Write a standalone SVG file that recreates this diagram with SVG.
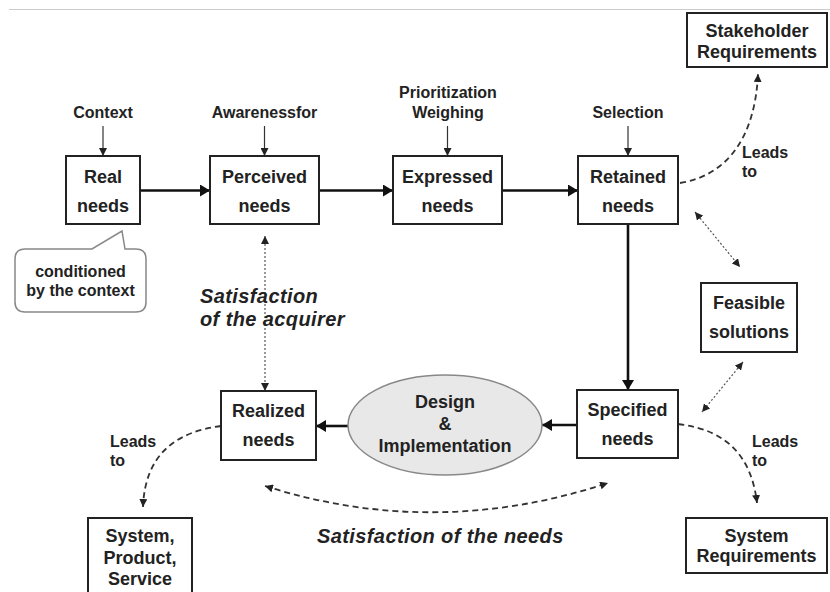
<svg xmlns="http://www.w3.org/2000/svg" width="830" height="592" viewBox="0 0 830 592">
<style>
.box{fill:#fff;stroke:#222;stroke-width:2}
.t{font-family:"Liberation Sans",Arial,sans-serif;font-weight:bold;fill:#222;text-anchor:middle}
.bl{font-size:18px}
.sl{font-size:16px}
.it{font-size:20px;font-style:italic;text-anchor:start;letter-spacing:0.4px}
.solid{stroke:#111;stroke-width:2.6;fill:none}
.thin{stroke:#333;stroke-width:1.2;fill:none}
.dash{stroke:#333;stroke-width:1.8;fill:none;stroke-dasharray:6,4}
.dot{stroke:#555;stroke-width:1.2;fill:none;stroke-dasharray:2,2}
</style>
<defs>
<marker id="big" markerUnits="userSpaceOnUse" markerWidth="10" markerHeight="12" refX="10" refY="6" orient="auto"><path d="M0,0 L10,6 L0,12 z" fill="#111"/></marker>
<marker id="sm" markerUnits="userSpaceOnUse" markerWidth="8" markerHeight="8" refX="8" refY="4" orient="auto"><path d="M0,0 L8,4 L0,8 z" fill="#222"/></marker>
<marker id="smS" markerUnits="userSpaceOnUse" markerWidth="8" markerHeight="8" refX="0" refY="4" orient="auto"><path d="M8,0 L0,4 L8,8 z" fill="#222"/></marker>
</defs>
<rect width="830" height="592" fill="#fff"/>
<line x1="9" y1="9.5" x2="830" y2="9.5" stroke="#ccc" stroke-width="1"/>

<g id="connectors">
<line class="thin" x1="103" y1="126" x2="103" y2="156" marker-end="url(#sm)"/>
<line class="thin" x1="264.5" y1="126" x2="264.5" y2="156" marker-end="url(#sm)"/>
<line class="thin" x1="447.5" y1="126" x2="447.5" y2="156" marker-end="url(#sm)"/>
<line class="thin" x1="628" y1="126" x2="628" y2="156" marker-end="url(#sm)"/>
<line class="solid" x1="140" y1="190.5" x2="210" y2="190.5" marker-end="url(#big)"/>
<line class="solid" x1="319" y1="190.5" x2="393" y2="190.5" marker-end="url(#big)"/>
<line class="solid" x1="502" y1="190.5" x2="578" y2="190.5" marker-end="url(#big)"/>
<line class="solid" x1="628" y1="224" x2="628" y2="390" marker-end="url(#big)"/>
<line class="solid" x1="577" y1="425" x2="542" y2="425" marker-end="url(#big)"/>
<line class="solid" x1="348" y1="426" x2="316" y2="426" marker-end="url(#big)"/>
<path class="dash" d="M680,183 C725,176 755,140 758,74" marker-end="url(#sm)"/>
<path class="dash" d="M678,424 C730,430 752,460 757,503" marker-end="url(#sm)"/>
<path class="dash" d="M221,426 C175,432 145,455 143,507" marker-end="url(#sm)"/>
<path class="dash" d="M265,486 Q435,540 608,483" marker-start="url(#smS)" marker-end="url(#sm)"/>
<line class="dot" x1="695" y1="212" x2="740" y2="267" marker-start="url(#smS)" marker-end="url(#sm)"/>
<line class="dot" x1="743" y1="362" x2="702" y2="412" marker-start="url(#smS)" marker-end="url(#sm)"/>
<line class="dot" x1="265" y1="236" x2="265" y2="391" marker-start="url(#smS)" marker-end="url(#sm)"/>
</g>

<g id="labels">
<text class="t sl" x="103" y="118">Context</text>
<text class="t sl" x="264.5" y="118">Awarenessfor</text>
<text class="t sl" x="448" y="98">Prioritization</text>
<text class="t sl" x="448" y="118">Weighing</text>
<text class="t sl" x="628" y="118">Selection</text>
<text class="t sl" x="742" y="158" style="text-anchor:start">Leads</text>
<text class="t sl" x="742" y="177" style="text-anchor:start">to</text>
<text class="t sl" x="752" y="447" style="text-anchor:start">Leads</text>
<text class="t sl" x="752" y="466" style="text-anchor:start">to</text>
<text class="t sl" x="110" y="447" style="text-anchor:start">Leads</text>
<text class="t sl" x="110" y="466" style="text-anchor:start">to</text>
<text class="t it" x="200" y="303">Satisfaction</text>
<text class="t it" x="200" y="326">of the acquirer</text>
<text class="t it" x="317" y="543">Satisfaction of the needs</text>
</g>

<g id="callout">
<path d="M25,249 L92,249 L122,231 L125,249 L136,249 Q146,249 146,259 L146,302 Q146,312 136,312 L25,312 Q15,312 15,302 L15,259 Q15,249 25,249 z" fill="#fff" stroke="#888" stroke-width="1.5"/>
<text class="t sl" x="80.5" y="277">conditioned</text>
<text class="t sl" x="80.5" y="296">by the context</text>
</g>

<g id="real">
<rect class="box" x="66" y="156" width="74" height="68"/>
<text class="t bl" x="103" y="183">Real</text>
<text class="t bl" x="103" y="212">needs</text>
</g>
<g id="perceived">
<rect class="box" x="210" y="156" width="109" height="68"/>
<text class="t bl" x="264.5" y="183">Perceived</text>
<text class="t bl" x="264.5" y="212">needs</text>
</g>
<g id="expressed">
<rect class="box" x="393" y="156" width="109" height="68"/>
<text class="t bl" x="447.5" y="183">Expressed</text>
<text class="t bl" x="447.5" y="212">needs</text>
</g>
<g id="retained">
<rect class="box" x="578" y="156" width="100" height="68"/>
<text class="t bl" x="628" y="183">Retained</text>
<text class="t bl" x="628" y="212">needs</text>
</g>
<g id="stakeholder">
<rect class="box" x="687" y="13" width="140" height="54"/>
<text class="t bl" x="757" y="37">Stakeholder</text>
<text class="t bl" x="757" y="58">Requirements</text>
</g>
<g id="feasible">
<rect class="box" x="701" y="283" width="96" height="69"/>
<text class="t bl" x="749" y="309">Feasible</text>
<text class="t bl" x="749" y="338">solutions</text>
</g>
<g id="specified">
<rect class="box" x="577" y="390" width="101" height="68"/>
<text class="t bl" x="627.5" y="416">Specified</text>
<text class="t bl" x="627.5" y="445">needs</text>
</g>
<g id="design">
<ellipse cx="445" cy="425" rx="97" ry="50" fill="#e8e8e8" stroke="#888" stroke-width="1.5"/>
<text class="t bl" x="445" y="408">Design</text>
<text class="t bl" x="445" y="430">&amp;</text>
<text class="t bl" x="445" y="452">Implementation</text>
</g>
<g id="realized">
<rect class="box" x="221" y="391" width="95" height="69"/>
<text class="t bl" x="268.5" y="417">Realized</text>
<text class="t bl" x="268.5" y="446">needs</text>
</g>
<g id="system-product">
<rect class="box" x="88" y="518" width="104" height="80"/>
<text class="t bl" x="140" y="542">System,</text>
<text class="t bl" x="140" y="564">Product,</text>
<text class="t bl" x="140" y="585">Service</text>
</g>
<g id="system-req">
<rect class="box" x="686" y="518" width="141" height="55"/>
<text class="t bl" x="756.5" y="542">System</text>
<text class="t bl" x="756.5" y="562">Requirements</text>
</g>
</svg>
